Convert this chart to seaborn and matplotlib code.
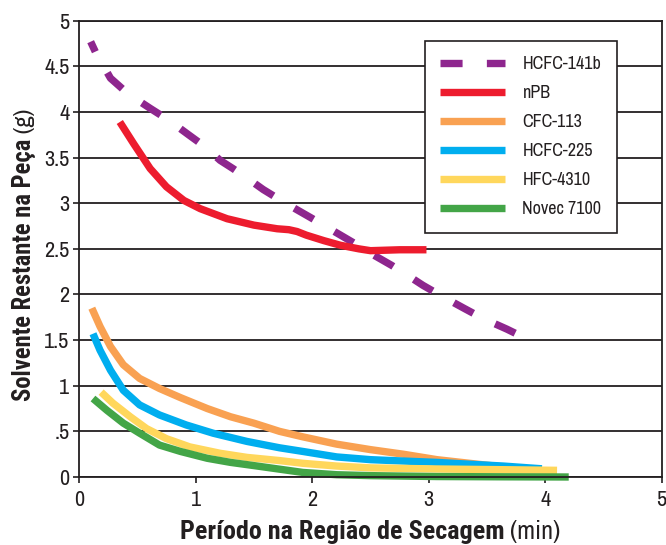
import matplotlib
matplotlib.use("Agg")
import matplotlib.pyplot as plt
import matplotlib.transforms as mtransforms
from matplotlib import font_manager as fm
import seaborn as sns
import pandas as pd

sns.set_theme(style="white")


def _w(v):
    return v if isinstance(v, int) else fm.weight_dict.get(v, 400)


def pick(cands, bold):
    avail = {}
    for f in fm.fontManager.ttflist:
        avail.setdefault(f.name, []).append(_w(f.weight))
    for c in cands:
        if c in avail and (not bold or max(avail[c]) >= 700) and (bold or min(avail[c]) <= 500):
            return c
    return "DejaVu Sans"


NARROW = ["Archivo Narrow", "Liberation Sans Narrow", "Roboto Condensed", "Barlow Semi Condensed",
          "Asap Condensed", "Barlow Condensed"]
REG = pick(NARROW, False)
BOLD = pick(NARROW, True)
plt.rcParams["font.family"] = [REG, "DejaVu Sans"]

# ---- data ----
x_141b = [0.10, 0.14, 0.27, 0.42, 0.61, 0.77, 0.94, 1.08, 1.21, 1.32, 1.47, 1.58, 1.72, 1.84,
          1.99, 2.15, 2.39, 2.53, 2.68, 2.83, 2.95, 3.10, 3.30, 3.46, 3.67, 3.75]
y_141b = [4.77, 4.66, 4.37, 4.20, 4.04, 3.91, 3.75, 3.62, 3.47, 3.38, 3.25, 3.15, 3.04, 2.95,
          2.84, 2.72, 2.54, 2.43, 2.32, 2.20, 2.10, 1.99, 1.85, 1.74, 1.62, 1.57]

x_npb = [0.35, 0.47, 0.61, 0.75, 0.90, 1.04, 1.27, 1.50, 1.70, 1.80, 1.87, 1.95, 2.10, 2.24,
         2.40, 2.50, 2.75, 2.98]
y_npb = [3.89, 3.65, 3.38, 3.18, 3.03, 2.94, 2.83, 2.76, 2.72, 2.71, 2.69, 2.65, 2.59, 2.54,
         2.50, 2.48, 2.49, 2.49]

x_cfc = [0.11, 0.18, 0.27, 0.38, 0.52, 0.69, 0.87, 1.10, 1.30, 1.50, 1.72, 1.92, 2.21, 2.50,
         2.78, 3.07, 3.35, 3.64, 3.84]
y_cfc = [1.85, 1.65, 1.43, 1.23, 1.08, 0.97, 0.87, 0.75, 0.66, 0.59, 0.50, 0.44, 0.36, 0.30,
         0.25, 0.19, 0.15, 0.11, 0.085]

x_225 = [0.12, 0.18, 0.27, 0.38, 0.52, 0.69, 0.92, 1.15, 1.44, 1.72, 1.92, 2.21, 2.50, 2.78,
         3.07, 3.35, 3.64, 3.97]
y_225 = [1.57, 1.39, 1.17, 0.95, 0.79, 0.68, 0.57, 0.48, 0.39, 0.32, 0.28, 0.22, 0.19, 0.175,
         0.16, 0.14, 0.12, 0.09]

x_4310 = [0.19, 0.29, 0.44, 0.58, 0.75, 0.95, 1.21, 1.44, 1.72, 1.92, 2.21, 2.50, 3.07, 3.64, 4.10]
y_4310 = [0.93, 0.81, 0.66, 0.53, 0.42, 0.33, 0.26, 0.215, 0.18, 0.15, 0.12, 0.10, 0.088, 0.08, 0.073]

x_novec = [0.12, 0.24, 0.38, 0.52, 0.69, 0.87, 1.10, 1.30, 1.50, 1.64, 1.92, 2.21, 2.50, 3.07,
           3.64, 4.20]
y_novec = [0.86, 0.73, 0.59, 0.48, 0.35, 0.28, 0.205, 0.16, 0.125, 0.10, 0.05, 0.025, 0.015,
           0.005, 0.002, 0.0]

series = ["HCFC-141b", "nPB", "CFC-113", "HCFC-225", "HFC-4310", "Novec 7100"]
colors = ["#8E268E", "#ED1C2E", "#F9A152", "#00AEEF", "#FFD75C", "#43A547"]

xticks = [0, 1, 2, 3, 4, 5]
yticks = [0, 0.5, 1, 1.5, 2, 2.5, 3, 3.5, 4, 4.5, 5]
ytick_labels = ["0", ".5", "1", "1.5", "2", "2.5", "3", "3.5", "4", "4.5", "5"]

xlabel_bold, xlabel_norm = "Período na Região de Secagem", " (min)"
ylabel_bold, ylabel_norm = "Solvente Restante na Peça", " (g)"

xs = [x_141b, x_npb, x_cfc, x_225, x_4310, x_novec]
ys = [y_141b, y_npb, y_cfc, y_225, y_4310, y_novec]
df = pd.concat([pd.DataFrame({"x": a, "y": b, "s": n}) for a, b, n in zip(xs, ys, series)],
               ignore_index=True)

INK = "#231F20"
LW = 5.3
fig = plt.figure(figsize=(6.66, 5.45), dpi=100)
ax = fig.add_axes([79/666, 1-477/545, (662-79)/666, (477-20.7)/545])

sns.lineplot(data=df, x="x", y="y", hue="s", style="s", hue_order=series, style_order=series,
             palette=dict(zip(series, colors)),
             dashes={s: ((3.0, 3.3) if s == "HCFC-141b" else "") for s in series},
             linewidth=LW, ax=ax, sort=False, estimator=None, legend=True)
for ln in ax.get_lines():
    ln.set_dash_capstyle("butt")
    ln.set_solid_capstyle("butt")
    ln.set_solid_joinstyle("round")
    ln.set_dash_joinstyle("round")
    ln.set_clip_on(False)
ax.get_lines()[0].set_linestyle((1.5, (3.0, 3.3)))

ax.set_xlim(0, 5)
ax.set_ylim(0, 5)
ax.set_xticks(xticks)
ax.set_xticklabels([str(t) for t in xticks])
ax.set_yticks(yticks)
ax.set_yticklabels(ytick_labels)
ax.tick_params(axis="both", labelsize=16, colors=INK, length=4, width=1.2,
               direction="out", left=True, bottom=True)
ax.tick_params(axis="x", pad=5)
ax.tick_params(axis="y", pad=3)
last = ax.get_xticklabels()[-1]
last.set_ha("right")
last.set_transform(last.get_transform() + mtransforms.ScaledTranslation(4/100, 0, fig.dpi_scale_trans))
ax.yaxis.grid(True, color=INK, linewidth=1.3)
ax.xaxis.grid(False)
ax.set_axisbelow(True)
for sp in ax.spines.values():
    sp.set_visible(True)
    sp.set_color(INK)
    sp.set_linewidth(1.3)
ax.set_xlabel("")
ax.set_ylabel("")

leg = ax.legend(loc="upper left", bbox_to_anchor=((425-79)/583, 1-(41-20.7)/456.3),
                fontsize=13, frameon=True, fancybox=False, handlelength=3.6,
                handletextpad=0.95, labelspacing=0.72, borderpad=0.85, borderaxespad=0,
                framealpha=1)
leg.get_frame().set_edgecolor(INK)
leg.get_frame().set_linewidth(1.2)
for h in leg.get_lines():
    h.set_linewidth(LW)
    h.set_dash_capstyle("butt")
    h.set_solid_capstyle("butt")
for t in leg.get_texts():
    t.set_color(INK)

# mixed-weight axis titles, sized to the reference widths
fig.canvas.draw()
r = fig.canvas.get_renderer()


def fit(text, target):
    w = text.get_window_extent(r)
    ext = max(w.width, w.height)
    text.set_fontsize(text.get_fontsize() * target / ext)


tb = fig.text(0, 0, xlabel_bold, fontsize=16, fontweight="bold", family=[BOLD, "DejaVu Sans"],
              color=INK, ha="left", va="baseline")
fit(tb, 325)
tn = fig.text(0, 0, xlabel_norm, fontsize=tb.get_fontsize(), color=INK, ha="left", va="baseline")
wb = tb.get_window_extent(r).width
wn = tn.get_window_extent(r).width
start = 370 - (wb + wn) / 2
tb.set_position((start/666, (545-539)/545))
tn.set_position(((start + wb)/666, (545-539)/545))

yb = fig.text(0, 0, ylabel_bold, fontsize=16, fontweight="bold", family=[BOLD, "DejaVu Sans"],
              color=INK, rotation=90, ha="left", va="baseline", rotation_mode="anchor")
fit(yb, 262)
yn = fig.text(0, 0, ylabel_norm, fontsize=yb.get_fontsize(), color=INK, rotation=90,
              ha="left", va="baseline", rotation_mode="anchor")
hb = yb.get_window_extent(r).height
yb.set_position((31/666, (545-401)/545))
yn.set_position((31/666, (545-401+hb)/545))

fig.savefig("out.png", dpi=100)
